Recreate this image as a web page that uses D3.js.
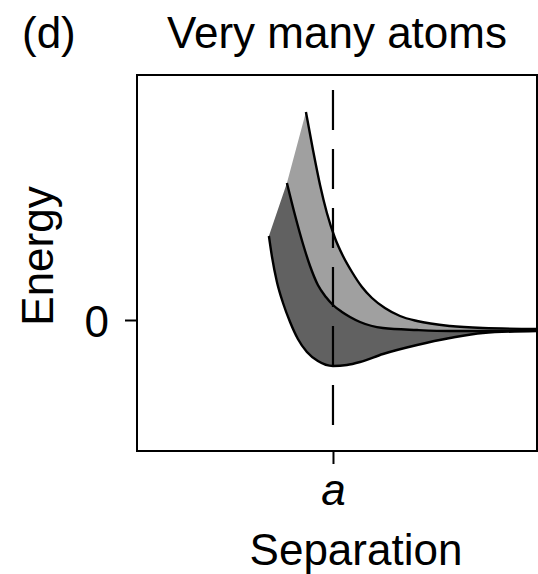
<!DOCTYPE html>
<html>
<head>
<meta charset="utf-8">
<script src="https://cdn.jsdelivr.net/npm/d3@7"></script>
<style>
  html, body { margin: 0; padding: 0; background: #fff; }
  svg { display: block; }
  text { font-family: "Liberation Sans", Arial, Helvetica, sans-serif; fill: #000; }
</style>
</head>
<body>
<svg id="chart" width="538" height="574"></svg>
<script>
// Energy bands versus interatomic separation (separation in units of a)
const upperSep    = [0.862, 0.898, 0.934, 0.969, 1.010, 1.051, 1.097, 1.148, 1.199, 1.265, 1.342, 1.429, 1.597, 1.765, 2.041];
const upperEnergy = [2.08, 1.70, 1.35, 1.07, 0.82, 0.64, 0.48, 0.33, 0.22, 0.12, 0.04, -0.01, -0.06, -0.08, -0.09];

const middleSep    = [0.765, 0.806, 0.847, 0.883, 0.923, 0.964, 1.000, 1.046, 1.087, 1.138, 1.255, 1.429, 1.597, 1.765, 2.041];
const middleEnergy = [1.37, 1.05, 0.76, 0.54, 0.35, 0.23, 0.15, 0.08, 0.03, -0.02, -0.08, -0.10, -0.11, -0.11, -0.10];

const lowerSep    = [0.673, 0.689, 0.714, 0.745, 0.781, 0.821, 0.867, 0.923, 1.000, 1.071, 1.138, 1.255, 1.429, 1.597, 1.765, 2.041];
const lowerEnergy = [0.84, 0.63, 0.38, 0.17, -0.02, -0.19, -0.32, -0.41, -0.46, -0.45, -0.42, -0.34, -0.25, -0.18, -0.13, -0.11];

const xTicks = [1];
const xTickLabels = ["a"];
const yTicks = [0];
const yTickLabels = ["0"];
const latticeSpacing = 1;
const markerEnergyRange = [2.30, -1.05];

const titleText = "Very many atoms";
const panelText = "(d)";
const xTitle = "Separation";
const yTitle = "Energy";

const svg = d3.select("#chart");
const frame = { left: 137, right: 537, top: 75, bottom: 451 };

const x = d3.scaleLinear().domain([0, 2.041]).range([frame.left, frame.right]);
const y = d3.scaleLinear().domain([-1.31, 2.45]).range([frame.bottom, frame.top]);

const zip = (xs, ys) => xs.map((v, i) => [v, ys[i]]);
const upper = zip(upperSep, upperEnergy);
const middle = zip(middleSep, middleEnergy);
const lower = zip(lowerSep, lowerEnergy);

svg.append("defs").append("clipPath").attr("id", "plot-clip")
  .append("rect")
  .attr("x", frame.left).attr("y", frame.top)
  .attr("width", frame.right - frame.left).attr("height", frame.bottom - frame.top);

const line = d3.line()
  .x(d => x(d[0]))
  .y(d => y(d[1]))
  .curve(d3.curveMonotoneX);

// closed band between two curves: forward along one, back along the other
function band(a, b) {
  const back = line(b.slice().reverse()).replace(/^M/, "L");
  return line(a) + back + "Z";
}

const plot = svg.append("g").attr("clip-path", "url(#plot-clip)");

plot.append("path").attr("d", band(upper, middle)).attr("fill", "#a0a0a0");
plot.append("path").attr("d", band(middle, lower)).attr("fill", "#616161");

// equilibrium separation marker
plot.append("line")
  .attr("x1", x(latticeSpacing)).attr("x2", x(latticeSpacing))
  .attr("y1", y(markerEnergyRange[0])).attr("y2", y(markerEnergyRange[1]))
  .attr("stroke", "#000").attr("stroke-width", 2.2)
  .attr("stroke-dasharray", "40,19");

[upper, middle, lower].forEach(c => {
  plot.append("path")
    .attr("d", line(c))
    .attr("fill", "none")
    .attr("stroke", "#000")
    .attr("stroke-width", 2.4)
    .attr("stroke-linejoin", "round");
});

// plot frame
svg.append("rect")
  .attr("x", frame.left).attr("y", frame.top)
  .attr("width", frame.right - frame.left).attr("height", frame.bottom - frame.top)
  .attr("fill", "none").attr("stroke", "#000").attr("stroke-width", 2);

// axes
const yAxis = d3.axisLeft(y)
  .tickValues(yTicks)
  .tickFormat((d, i) => yTickLabels[i])
  .tickSize(12)
  .tickPadding(16);

const gy = svg.append("g").attr("transform", `translate(${frame.left},0)`).call(yAxis);
gy.select(".domain").remove();
gy.selectAll(".tick line").attr("stroke", "#000").attr("stroke-width", 2);
gy.selectAll(".tick text")
  .attr("dy", "0.37em")
  .style("font-size", "44px")
  .style("font-family", "'Liberation Sans', Arial, sans-serif")
  .attr("fill", "#000");

const xAxis = d3.axisBottom(x)
  .tickValues(xTicks)
  .tickFormat((d, i) => xTickLabels[i])
  .tickSize(13)
  .tickPadding(10);

const gx = svg.append("g").attr("transform", `translate(0,${frame.bottom})`).call(xAxis);
gx.select(".domain").remove();
gx.selectAll(".tick line").attr("stroke", "#000").attr("stroke-width", 2);
gx.selectAll(".tick text")
  .attr("y", 54).attr("dy", 0)
  .style("font-size", "44px")
  .style("font-style", "italic")
  .style("font-family", "'Liberation Sans', Arial, sans-serif")
  .attr("fill", "#000");

// titles
svg.append("text")
  .attr("x", 337).attr("y", 48)
  .attr("text-anchor", "middle")
  .style("font-size", "44px")
  .text(titleText);

svg.append("text")
  .attr("x", 22).attr("y", 48)
  .style("font-size", "44px")
  .text(panelText);

svg.append("text")
  .attr("x", 356).attr("y", 565)
  .attr("text-anchor", "middle")
  .style("font-size", "44px")
  .text(xTitle);

svg.append("text")
  .attr("transform", "translate(53,256) rotate(-90)")
  .attr("text-anchor", "middle")
  .style("font-size", "44px")
  .text(yTitle);
</script>
</body>
</html>
